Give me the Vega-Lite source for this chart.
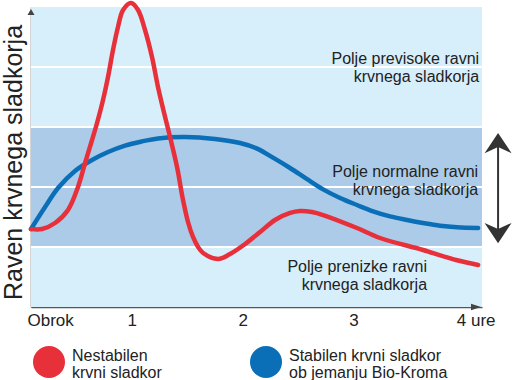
{
  "$schema": "https://vega.github.io/schema/vega-lite/v6.json",
  "width": 451,
  "height": 300,
  "autosize": {"type": "none"},
  "padding": {"left": 31, "top": 7, "right": 30, "bottom": 73},
  "background": "white",
  "config": {"view": {"stroke": null}, "font": "Liberation Sans"},
  "datasets": {
    "zones": [
      {"zone": "prenizka", "lo": 0, "hi": 1, "kind": "light"},
      {"zone": "normalna", "lo": 1, "hi": 3, "kind": "dark"},
      {"zone": "previsoka", "lo": 3, "hi": 5, "kind": "light"}
    ],
    "gridlines": [{"level": 1}, {"level": 2}, {"level": 3}, {"level": 4}],
    "notes": [
      {"h": 4.134, "v": 4.05, "note": "Polje previsoke ravni\nkrvnega sladkorja"},
      {"h": 4.125, "v": 2.167, "note": "Polje normalne ravni\nkrvnega sladkorja"},
      {"h": 3.664, "v": 0.583, "note": "Polje prenizke ravni\nkrvnega sladkorja"}
    ],
    "arrows": [
      {"part": "yhead", "h": 0.09, "v": 4.917},
      {"part": "xhead", "h": 4.106, "v": 0},
      {"part": "up", "h": 4.305, "v": 2.733},
      {"part": "down", "h": 4.305, "v": 1.233},
      {"part": "shaft", "h": 4.305, "v": 2.8, "v2": 1.15}
    ],
    "curves": [
      {"s": "Nestabilen krvni sladkor", "h": 0.090, "v": 1.300},
      {"s": "Nestabilen krvni sladkor", "h": 0.190, "v": 1.300},
      {"s": "Nestabilen krvni sladkor", "h": 0.307, "v": 1.400},
      {"s": "Nestabilen krvni sladkor", "h": 0.424, "v": 1.617},
      {"s": "Nestabilen krvni sladkor", "h": 0.514, "v": 2.000},
      {"s": "Nestabilen krvni sladkor", "h": 0.578, "v": 2.400},
      {"s": "Nestabilen krvni sladkor", "h": 0.641, "v": 2.783},
      {"s": "Nestabilen krvni sladkor", "h": 0.686, "v": 3.067},
      {"s": "Nestabilen krvni sladkor", "h": 0.740, "v": 3.450},
      {"s": "Nestabilen krvni sladkor", "h": 0.785, "v": 3.833},
      {"s": "Nestabilen krvni sladkor", "h": 0.830, "v": 4.283},
      {"s": "Nestabilen krvni sladkor", "h": 0.875, "v": 4.667},
      {"s": "Nestabilen krvni sladkor", "h": 0.921, "v": 4.950},
      {"s": "Nestabilen krvni sladkor", "h": 0.993, "v": 5.067},
      {"s": "Nestabilen krvni sladkor", "h": 1.056, "v": 4.950},
      {"s": "Nestabilen krvni sladkor", "h": 1.119, "v": 4.617},
      {"s": "Nestabilen krvni sladkor", "h": 1.182, "v": 4.167},
      {"s": "Nestabilen krvni sladkor", "h": 1.236, "v": 3.667},
      {"s": "Nestabilen krvni sladkor", "h": 1.300, "v": 3.167},
      {"s": "Nestabilen krvni sladkor", "h": 1.345, "v": 2.833},
      {"s": "Nestabilen krvni sladkor", "h": 1.408, "v": 2.333},
      {"s": "Nestabilen krvni sladkor", "h": 1.462, "v": 1.783},
      {"s": "Nestabilen krvni sladkor", "h": 1.507, "v": 1.417},
      {"s": "Nestabilen krvni sladkor", "h": 1.552, "v": 1.167},
      {"s": "Nestabilen krvni sladkor", "h": 1.598, "v": 1.000},
      {"s": "Nestabilen krvni sladkor", "h": 1.643, "v": 0.900},
      {"s": "Nestabilen krvni sladkor", "h": 1.778, "v": 0.800},
      {"s": "Nestabilen krvni sladkor", "h": 1.886, "v": 0.883},
      {"s": "Nestabilen krvni sladkor", "h": 2.022, "v": 1.050},
      {"s": "Nestabilen krvni sladkor", "h": 2.157, "v": 1.250},
      {"s": "Nestabilen krvni sladkor", "h": 2.292, "v": 1.450},
      {"s": "Nestabilen krvni sladkor", "h": 2.428, "v": 1.567},
      {"s": "Nestabilen krvni sladkor", "h": 2.518, "v": 1.600},
      {"s": "Nestabilen krvni sladkor", "h": 2.626, "v": 1.583},
      {"s": "Nestabilen krvni sladkor", "h": 2.726, "v": 1.533},
      {"s": "Nestabilen krvni sladkor", "h": 3.032, "v": 1.317},
      {"s": "Nestabilen krvni sladkor", "h": 3.240, "v": 1.150},
      {"s": "Nestabilen krvni sladkor", "h": 3.628, "v": 0.950},
      {"s": "Nestabilen krvni sladkor", "h": 3.926, "v": 0.783},
      {"s": "Nestabilen krvni sladkor", "h": 4.125, "v": 0.700},
      {"s": "Stabilen krvni sladkor ob jemanju Bio-Kroma", "h": 0.090, "v": 1.300},
      {"s": "Stabilen krvni sladkor ob jemanju Bio-Kroma", "h": 0.217, "v": 1.667},
      {"s": "Stabilen krvni sladkor ob jemanju Bio-Kroma", "h": 0.334, "v": 1.983},
      {"s": "Stabilen krvni sladkor ob jemanju Bio-Kroma", "h": 0.487, "v": 2.267},
      {"s": "Stabilen krvni sladkor ob jemanju Bio-Kroma", "h": 0.641, "v": 2.450},
      {"s": "Stabilen krvni sladkor ob jemanju Bio-Kroma", "h": 0.785, "v": 2.583},
      {"s": "Stabilen krvni sladkor ob jemanju Bio-Kroma", "h": 0.939, "v": 2.690},
      {"s": "Stabilen krvni sladkor ob jemanju Bio-Kroma", "h": 1.092, "v": 2.760},
      {"s": "Stabilen krvni sladkor ob jemanju Bio-Kroma", "h": 1.236, "v": 2.810},
      {"s": "Stabilen krvni sladkor ob jemanju Bio-Kroma", "h": 1.480, "v": 2.833},
      {"s": "Stabilen krvni sladkor ob jemanju Bio-Kroma", "h": 1.751, "v": 2.800},
      {"s": "Stabilen krvni sladkor ob jemanju Bio-Kroma", "h": 1.977, "v": 2.733},
      {"s": "Stabilen krvni sladkor ob jemanju Bio-Kroma", "h": 2.130, "v": 2.640},
      {"s": "Stabilen krvni sladkor ob jemanju Bio-Kroma", "h": 2.274, "v": 2.490},
      {"s": "Stabilen krvni sladkor ob jemanju Bio-Kroma", "h": 2.428, "v": 2.317},
      {"s": "Stabilen krvni sladkor ob jemanju Bio-Kroma", "h": 2.581, "v": 2.130},
      {"s": "Stabilen krvni sladkor ob jemanju Bio-Kroma", "h": 2.726, "v": 1.960},
      {"s": "Stabilen krvni sladkor ob jemanju Bio-Kroma", "h": 2.879, "v": 1.817},
      {"s": "Stabilen krvni sladkor ob jemanju Bio-Kroma", "h": 3.032, "v": 1.700},
      {"s": "Stabilen krvni sladkor ob jemanju Bio-Kroma", "h": 3.177, "v": 1.595},
      {"s": "Stabilen krvni sladkor ob jemanju Bio-Kroma", "h": 3.330, "v": 1.510},
      {"s": "Stabilen krvni sladkor ob jemanju Bio-Kroma", "h": 3.484, "v": 1.450},
      {"s": "Stabilen krvni sladkor ob jemanju Bio-Kroma", "h": 3.628, "v": 1.400},
      {"s": "Stabilen krvni sladkor ob jemanju Bio-Kroma", "h": 3.782, "v": 1.355},
      {"s": "Stabilen krvni sladkor ob jemanju Bio-Kroma", "h": 3.935, "v": 1.330},
      {"s": "Stabilen krvni sladkor ob jemanju Bio-Kroma", "h": 4.125, "v": 1.317}
    ]
  },
  "layer": [
    {
      "data": {"name": "zones"},
      "transform": [{"filter": "datum.kind == 'light'"}],
      "mark": {"type": "rect", "color": "#d7eefb"},
      "encoding": {
        "y": {"field": "lo", "type": "quantitative", "scale": {"domain": [0, 5], "nice": false, "zero": false}},
        "y2": {"field": "hi"}
      }
    },
    {
      "data": {"name": "zones"},
      "transform": [{"filter": "datum.kind == 'dark'"}],
      "mark": {"type": "rect", "color": "#abcbe8"},
      "encoding": {
        "y": {"field": "lo", "type": "quantitative", "scale": {"domain": [0, 5], "nice": false, "zero": false}},
        "y2": {"field": "hi"}
      }
    },
    {
      "data": {"name": "gridlines"},
      "mark": {"type": "rule", "color": "white", "strokeWidth": 2},
      "encoding": {
        "y": {"field": "level", "type": "quantitative", "scale": {"domain": [0, 5], "nice": false, "zero": false}}
      }
    },
    {
      "data": {"name": "notes"},
      "mark": {"type": "text", "align": "right", "baseline": "alphabetic", "fontSize": 16, "lineHeight": 18, "lineBreak": "\n", "color": "#222"},
      "encoding": {
        "x": {"field": "h", "type": "quantitative", "scale": {"domain": [0.09, 4.16], "nice": false, "zero": false}},
        "y": {"field": "v", "type": "quantitative", "scale": {"domain": [0, 5], "nice": false, "zero": false}},
        "text": {"field": "note"}
      }
    },
    {
      "data": {"name": "curves"},
      "transform": [{"filter": "datum.s != 'Nestabilen krvni sladkor'"}],
      "mark": {"type": "line", "strokeWidth": 4.5, "interpolate": "catmull-rom", "strokeCap": "round"},
      "encoding": {
        "x": {"field": "h", "type": "quantitative", "scale": {"domain": [0.09, 4.16], "nice": false, "zero": false}},
        "y": {"field": "v", "type": "quantitative", "scale": {"domain": [0, 5], "nice": false, "zero": false}},
        "color": {"field": "s", "type": "nominal"}
      }
    },
    {
      "data": {"name": "curves"},
      "transform": [{"filter": "datum.s == 'Nestabilen krvni sladkor'"}],
      "mark": {"type": "line", "strokeWidth": 4.5, "interpolate": "catmull-rom", "strokeCap": "round"},
      "encoding": {
        "x": {
          "field": "h", "type": "quantitative",
          "scale": {"domain": [0.09, 4.16], "nice": false, "zero": false},
          "axis": {
            "values": [0.09, 1, 2, 3, 4],
            "title": null,
            "grid": false,
            "labelExpr": "datum.value < 0.5 ? 'Obrok' : (datum.value == 4 ? '4 ure' : format(datum.value, 'd'))",
            "labelAlign": {"condition": {"test": "datum.value < 0.5 || datum.value == 4", "value": "left"}, "value": "center"},
            "labelOffset": {"condition": [{"test": "datum.value < 0.5", "value": -4}, {"test": "datum.value == 4", "value": -8}], "value": 0},
            "tickOpacity": {"condition": {"test": "datum.value < 0.5", "value": 0}, "value": 1},
            "tickSize": -7,
            "tickWidth": 1.5,
            "tickColor": "#555",
            "domainColor": "#555",
            "domainWidth": 1.5,
            "labelPadding": 12,
            "labelFontSize": 17,
            "labelColor": "#222",
            "labelFlush": false,
            "labelOverlap": false,
            "labelBound": false
          }
        },
        "y": {
          "field": "v", "type": "quantitative",
          "scale": {"domain": [0, 5], "nice": false, "zero": false},
          "axis": {
            "title": "Raven krvnega sladkorja",
            "titleFontSize": 25,
            "titleFontWeight": "normal",
            "titleColor": "#222",
            "titleX": -18,
            "titleY": 155,
            "titleAngle": -90,
            "titleAlign": "center",
            "titleBaseline": "middle",
            "labels": false,
            "ticks": false,
            "grid": false,
            "domainColor": "#555",
            "domainWidth": 1.5
          }
        },
        "color": {
          "field": "s", "type": "nominal",
          "scale": {"domain": ["Nestabilen krvni sladkor", "Stabilen krvni sladkor ob jemanju Bio-Kroma"], "range": ["#e8303a", "#0a6fb7"]},
          "legend": {
            "orient": "none",
            "legendX": 2,
            "legendY": 339,
            "direction": "horizontal",
            "columns": 2,
            "columnPadding": 88,
            "title": null,
            "padding": 0,
            "symbolType": "circle",
            "symbolSize": 1024,
            "symbolStrokeWidth": 0,
            "labelFontSize": 16,
            "labelColor": "#222",
            "labelOffset": 7,
            "labelLimit": 400,
            "labelExpr": "datum.label == 'Nestabilen krvni sladkor' ? ['Nestabilen', 'krvni sladkor'] : ['Stabilen krvni sladkor', 'ob jemanju Bio-Kroma']",
            "encode": {
              "symbols": {"update": {"fill": {"scale": "color", "field": "value"}, "stroke": {"value": "transparent"}, "opacity": {"value": 1}}},
              "labels": {"update": {"dy": {"value": -6}, "lineHeight": {"value": 17}}}
            }
          }
        }
      }
    },
    {
      "data": {"name": "arrows"},
      "transform": [{"filter": "datum.part == 'shaft'"}],
      "mark": {"type": "rule", "color": "#333", "strokeWidth": 2},
      "encoding": {
        "x": {"field": "h", "type": "quantitative", "scale": {"domain": [0.09, 4.16], "nice": false, "zero": false}},
        "y": {"field": "v", "type": "quantitative", "scale": {"domain": [0, 5], "nice": false, "zero": false}},
        "y2": {"field": "v2"}
      }
    },
    {
      "data": {"name": "arrows"},
      "transform": [{"filter": "datum.part == 'up'"}],
      "mark": {"type": "point", "shape": "M0,-0.75 L1,0.75 L0,0.3 L-1,0.75 Z", "size": 729, "filled": true, "color": "#333", "opacity": 1, "strokeWidth": 0},
      "encoding": {
        "x": {"field": "h", "type": "quantitative", "scale": {"domain": [0.09, 4.16], "nice": false, "zero": false}},
        "y": {"field": "v", "type": "quantitative", "scale": {"domain": [0, 5], "nice": false, "zero": false}}
      }
    },
    {
      "data": {"name": "arrows"},
      "transform": [{"filter": "datum.part == 'down'"}],
      "mark": {"type": "point", "shape": "M0,0.75 L1,-0.75 L0,-0.3 L-1,-0.75 Z", "size": 729, "filled": true, "color": "#333", "opacity": 1, "strokeWidth": 0},
      "encoding": {
        "x": {"field": "h", "type": "quantitative", "scale": {"domain": [0.09, 4.16], "nice": false, "zero": false}},
        "y": {"field": "v", "type": "quantitative", "scale": {"domain": [0, 5], "nice": false, "zero": false}}
      }
    },
    {
      "data": {"name": "arrows"},
      "transform": [{"filter": "datum.part == 'yhead'"}],
      "mark": {"type": "point", "shape": "M0,-0.85 L1,0.85 L-1,0.85 Z", "size": 49, "filled": true, "color": "#444", "opacity": 1, "strokeWidth": 0},
      "encoding": {
        "x": {"field": "h", "type": "quantitative", "scale": {"domain": [0.09, 4.16], "nice": false, "zero": false}},
        "y": {"field": "v", "type": "quantitative", "scale": {"domain": [0, 5], "nice": false, "zero": false}}
      }
    },
    {
      "data": {"name": "arrows"},
      "transform": [{"filter": "datum.part == 'xhead'"}],
      "mark": {"type": "point", "shape": "M1,0 L-1,-0.65 L-1,0.65 Z", "size": 100, "filled": true, "color": "#444", "opacity": 1, "strokeWidth": 0},
      "encoding": {
        "x": {"field": "h", "type": "quantitative", "scale": {"domain": [0.09, 4.16], "nice": false, "zero": false}},
        "y": {"field": "v", "type": "quantitative", "scale": {"domain": [0, 5], "nice": false, "zero": false}}
      }
    }
  ]
}
